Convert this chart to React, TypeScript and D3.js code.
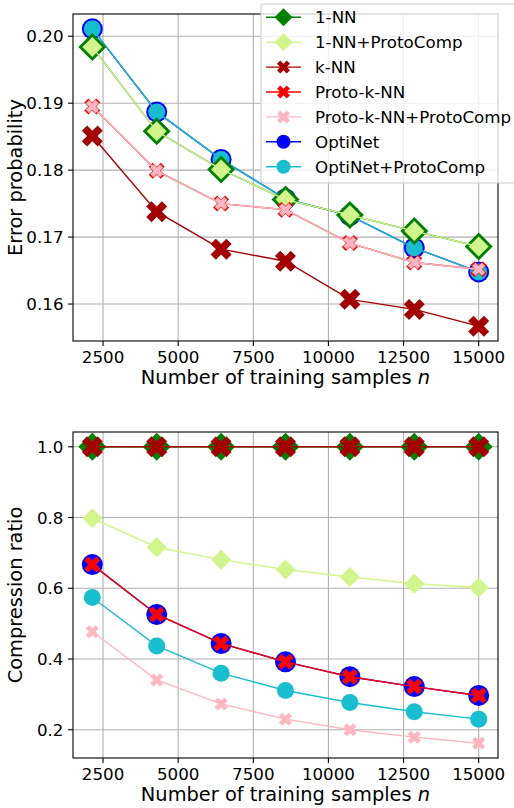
import React, { useEffect, useRef } from "react";
import * as d3 from "d3";

// training set sizes
const nSamples = [2143, 4286, 6429, 8571, 10714, 12857, 15000];

// error probability (top panel)
const errOneNN = [0.1984, 0.1858, 0.1801, 0.1756, 0.1733, 0.1709, 0.1686];
const errOneNNProto = [0.1984, 0.1858, 0.1801, 0.1756, 0.1733, 0.1709, 0.1686];
const errKNN = [0.1851, 0.1738, 0.1682, 0.1664, 0.1607, 0.1592, 0.1567];
const errProtoKNN = [0.1895, 0.1799, 0.175, 0.1741, 0.1691, 0.1662, 0.1652];
const errProtoKNNProto = [0.1895, 0.1799, 0.175, 0.1741, 0.1691, 0.1662, 0.1652];
const errOptiNet = [0.2011, 0.1887, 0.1816, 0.1757, 0.1732, 0.1684, 0.1648];
const errOptiNetProto = [0.2011, 0.1887, 0.1816, 0.1757, 0.1732, 0.1684, 0.1648];

// compression ratio (bottom panel)
const ratioOneNN = [1, 1, 1, 1, 1, 1, 1];
const ratioOneNNProto = [0.798, 0.716, 0.681, 0.653, 0.632, 0.613, 0.602];
const ratioKNN = [1, 1, 1, 1, 1, 1, 1];
const ratioProtoKNN = [0.667, 0.526, 0.444, 0.392, 0.35, 0.322, 0.297];
const ratioProtoKNNProto = [0.477, 0.341, 0.273, 0.23, 0.2, 0.179, 0.162];
const ratioOptiNet = [0.667, 0.526, 0.444, 0.392, 0.35, 0.322, 0.297];
const ratioOptiNetProto = [0.574, 0.437, 0.36, 0.311, 0.277, 0.251, 0.23];

const xTicks = [2500, 5000, 7500, 10000, 12500, 15000];
const errTicks = [0.16, 0.17, 0.18, 0.19, 0.2];
const ratioTicks = [0.2, 0.4, 0.6, 0.8, 1.0];

const seriesNames = [
  "1-NN",
  "1-NN+ProtoComp",
  "k-NN",
  "Proto-k-NN",
  "Proto-k-NN+ProtoComp",
  "OptiNet",
  "OptiNet+ProtoComp",
];

// matplotlib plotted the OptiNet curves first
const drawOrder = [5, 6, 0, 1, 2, 3, 4];

const errValues = [errOneNN, errOneNNProto, errKNN, errProtoKNN, errProtoKNNProto, errOptiNet, errOptiNetProto];
const ratioValues = [ratioOneNN, ratioOneNNProto, ratioKNN, ratioProtoKNN, ratioProtoKNNProto, ratioOptiNet, ratioOptiNetProto];

const styles = [
  { color: "#008000", marker: "D", size: 14, legendSize: 9 },
  { color: "#d1f58b", marker: "D", size: 10, legendSize: 9 },
  { color: "#a40000", marker: "X", size: 10.5, legendSize: 6.5 },
  { color: "#ff0000", marker: "X", size: 8, legendSize: 6.5 },
  { color: "#ffb6c1", marker: "X", size: 6.5, legendSize: 6.5 },
  { color: "#0000ff", marker: "o", size: 10.5, legendSize: 7 },
  { color: "#17becf", marker: "o", size: 8.5, legendSize: 7 },
];

const FONT = "DejaVu Sans, sans-serif";
const TICK_FS = 16.7;
const LABEL_FS = 19.4;

function markerPath(kind: string, h: number): string {
  if (kind === "D") return `M0,${-h}L${h},0L0,${h}L${-h},0Z`;
  if (kind === "X") {
    const s = h / 0.943;
    const t = s / 3;
    const pts = [[-s, -t], [-t, -t], [-t, -s], [t, -s], [t, -t], [s, -t], [s, t], [t, t], [t, s], [-t, s], [-t, t], [-s, t]];
    const c = Math.SQRT1_2;
    return "M" + pts.map(([x, y]) => `${(x - y) * c},${(x + y) * c}`).join("L") + "Z";
  }
  return `M${-h},0A${h},${h} 0 1,0 ${h},0A${h},${h} 0 1,0 ${-h},0Z`;
}

function padded(vals: number[]): [number, number] {
  const [lo, hi] = d3.extent(vals) as [number, number];
  const p = (hi - lo) * 0.05;
  return [lo - p, hi + p];
}

const App: React.FC = () => {
  const svgRef = useRef<SVGSVGElement>(null);

  useEffect(() => {
    const svg = d3.select(svgRef.current);
    svg.selectAll("*").remove();

    const left = 73;
    const right = 498;

    const x = d3.scaleLinear().domain(padded(nSamples)).range([left, right]);

    const panels = [
      { top: 14, bottom: 341, values: errValues, ticks: errTicks, fmt: d3.format(".2f"), label: "Error probability" },
      { top: 432, bottom: 758, values: ratioValues, ticks: ratioTicks, fmt: d3.format(".1f"), label: "Compression ratio" },
    ];

    panels.forEach((p, pi) => {
      const y = d3.scaleLinear().domain(padded(p.values.flat())).range([p.bottom, p.top]);
      const g = svg.append("g");

      const clipId = `clip${pi}`;
      svg.append("clipPath").attr("id", clipId)
        .append("rect").attr("x", left).attr("y", p.top).attr("width", right - left).attr("height", p.bottom - p.top);

      // grid
      g.selectAll(".gx").data(xTicks).enter().append("line")
        .attr("x1", d => x(d)).attr("x2", d => x(d))
        .attr("y1", p.top).attr("y2", p.bottom)
        .attr("stroke", "#b0b0b0").attr("stroke-width", 1.1);
      g.selectAll(".gy").data(p.ticks).enter().append("line")
        .attr("x1", left).attr("x2", right)
        .attr("y1", d => y(d)).attr("y2", d => y(d))
        .attr("stroke", "#b0b0b0").attr("stroke-width", 1.1);

      const plot = g.append("g").attr("clip-path", `url(#${clipId})`);
      const line = d3.line<number>().x((_, i) => x(nSamples[i])).y(d => y(d));

      drawOrder.forEach(si => {
        const st = styles[si];
        const vals = p.values[si];
        plot.append("path")
          .attr("d", line(vals)!)
          .attr("fill", "none")
          .attr("stroke", st.color)
          .attr("stroke-width", 1.4);
        plot.selectAll(null).data(vals).enter().append("path")
          .attr("d", markerPath(st.marker, st.size))
          .attr("transform", (d, i) => `translate(${x(nSamples[i])},${y(d)})`)
          .attr("fill", st.color);
      });

      // frame
      g.append("rect")
        .attr("x", left).attr("y", p.top)
        .attr("width", right - left).attr("height", p.bottom - p.top)
        .attr("fill", "none").attr("stroke", "#000").attr("stroke-width", 1.1);

      // x ticks
      xTicks.forEach(t => {
        g.append("line")
          .attr("x1", x(t)).attr("x2", x(t))
          .attr("y1", p.bottom).attr("y2", p.bottom + 4.9)
          .attr("stroke", "#000").attr("stroke-width", 1.1);
        g.append("text")
          .attr("x", x(t)).attr("y", p.bottom + 22)
          .attr("text-anchor", "middle")
          .attr("font-family", FONT).attr("font-size", TICK_FS)
          .text(String(t));
      });

      // y ticks
      p.ticks.forEach(t => {
        g.append("line")
          .attr("x1", left - 4.9).attr("x2", left)
          .attr("y1", y(t)).attr("y2", y(t))
          .attr("stroke", "#000").attr("stroke-width", 1.1);
        g.append("text")
          .attr("x", left - 9.5).attr("y", y(t))
          .attr("dy", "0.36em")
          .attr("text-anchor", "end")
          .attr("font-family", FONT).attr("font-size", TICK_FS)
          .text(p.fmt(t));
      });

      // axis labels
      const xl = g.append("text")
        .attr("x", (left + right) / 2).attr("y", p.bottom + 43)
        .attr("text-anchor", "middle")
        .attr("font-family", FONT).attr("font-size", LABEL_FS);
      xl.append("tspan").text("Number of training samples ");
      xl.append("tspan").attr("font-style", "italic").text("n");

      g.append("text")
        .attr("transform", `translate(22,${(p.top + p.bottom) / 2}) rotate(-90)`)
        .attr("text-anchor", "middle")
        .attr("font-family", FONT).attr("font-size", LABEL_FS)
        .text(p.label);
    });

    // legend
    const lg = svg.append("g");
    lg.append("rect")
      .attr("x", 261).attr("y", 4)
      .attr("width", 262).attr("height", 179)
      .attr("rx", 3)
      .attr("fill", "#fff").attr("fill-opacity", 0.8)
      .attr("stroke", "#cccccc").attr("stroke-width", 1.1);

    seriesNames.forEach((name, i) => {
      const st = styles[i];
      const cy = 17.3 + i * 24.9;
      lg.append("line")
        .attr("x1", 266).attr("x2", 301)
        .attr("y1", cy).attr("y2", cy)
        .attr("stroke", st.color).attr("stroke-width", 1.4);
      lg.append("path")
        .attr("d", markerPath(st.marker, st.legendSize))
        .attr("transform", `translate(283.5,${cy})`)
        .attr("fill", st.color);
      lg.append("text")
        .attr("x", 315).attr("y", cy)
        .attr("dy", "0.36em")
        .attr("font-family", FONT).attr("font-size", TICK_FS)
        .text(name);
    });
  }, []);

  return (
    <svg
      ref={svgRef}
      width={514}
      height={808}
      style={{ position: "absolute", left: 0, top: 0, background: "#fff" }}
    ></svg>
  );
};

export default App;
